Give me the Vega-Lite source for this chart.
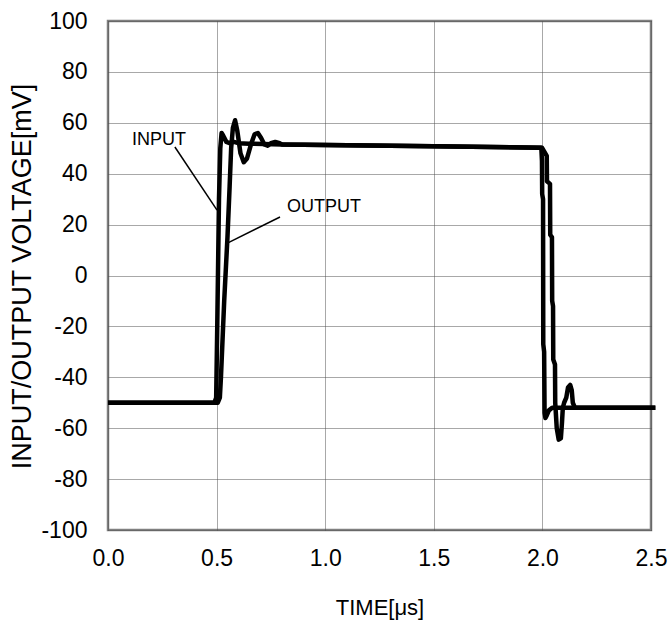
{
  "$schema": "https://vega.github.io/schema/vega-lite/v6.json",
  "width": 543,
  "height": 509,
  "autosize": {"type": "none"},
  "padding": {"left": 108, "top": 21, "right": 17, "bottom": 98},
  "background": "white",
  "config": {
    "font": "Liberation Sans",
    "view": {"stroke": "#808080", "strokeWidth": 2.5},
    "axis": {
      "grid": true,
      "gridColor": "#505050",
      "gridDash": [1, 1],
      "gridWidth": 1,
      "domain": false,
      "ticks": false,
      "labelFlush": false,
      "labelFont": "Liberation Sans",
      "labelFontSize": 23,
      "labelColor": "black",
      "titleFont": "Liberation Sans",
      "titleFontWeight": "normal",
      "titleColor": "black"
    }
  },
  "datasets": {
    "curves": [
      {"series": "INPUT", "i": 0, "t": 0.0, "v": -50},
      {"series": "INPUT", "i": 1, "t": 0.49, "v": -50},
      {"series": "INPUT", "i": 2, "t": 0.498, "v": -48},
      {"series": "INPUT", "i": 3, "t": 0.503, "v": -20},
      {"series": "INPUT", "i": 4, "t": 0.511, "v": 30},
      {"series": "INPUT", "i": 5, "t": 0.517, "v": 50},
      {"series": "INPUT", "i": 6, "t": 0.523, "v": 56},
      {"series": "INPUT", "i": 7, "t": 0.53, "v": 55},
      {"series": "INPUT", "i": 8, "t": 0.545, "v": 52.5},
      {"series": "INPUT", "i": 9, "t": 0.56, "v": 52},
      {"series": "INPUT", "i": 10, "t": 0.58, "v": 52.5},
      {"series": "INPUT", "i": 11, "t": 0.6, "v": 52},
      {"series": "INPUT", "i": 12, "t": 0.65, "v": 51.8},
      {"series": "INPUT", "i": 13, "t": 0.8, "v": 51.5},
      {"series": "INPUT", "i": 14, "t": 1.0, "v": 51.3},
      {"series": "INPUT", "i": 15, "t": 1.5, "v": 50.8},
      {"series": "INPUT", "i": 16, "t": 1.995, "v": 50.2},
      {"series": "INPUT", "i": 17, "t": 1.998, "v": 45},
      {"series": "INPUT", "i": 18, "t": 1.999, "v": 32},
      {"series": "INPUT", "i": 19, "t": 2.003, "v": 30},
      {"series": "INPUT", "i": 20, "t": 2.004, "v": -27},
      {"series": "INPUT", "i": 21, "t": 2.008, "v": -30},
      {"series": "INPUT", "i": 22, "t": 2.01, "v": -54},
      {"series": "INPUT", "i": 23, "t": 2.014, "v": -56},
      {"series": "INPUT", "i": 24, "t": 2.02, "v": -55},
      {"series": "INPUT", "i": 25, "t": 2.03, "v": -53},
      {"series": "INPUT", "i": 26, "t": 2.045, "v": -52},
      {"series": "INPUT", "i": 27, "t": 2.52, "v": -52},
      {"series": "OUTPUT", "i": 0, "t": 0.0, "v": -50},
      {"series": "OUTPUT", "i": 1, "t": 0.505, "v": -50},
      {"series": "OUTPUT", "i": 2, "t": 0.515, "v": -48},
      {"series": "OUTPUT", "i": 3, "t": 0.52, "v": -40},
      {"series": "OUTPUT", "i": 4, "t": 0.535, "v": -10},
      {"series": "OUTPUT", "i": 5, "t": 0.55, "v": 15},
      {"series": "OUTPUT", "i": 6, "t": 0.56, "v": 35},
      {"series": "OUTPUT", "i": 7, "t": 0.567, "v": 50},
      {"series": "OUTPUT", "i": 8, "t": 0.575, "v": 58},
      {"series": "OUTPUT", "i": 9, "t": 0.585, "v": 61},
      {"series": "OUTPUT", "i": 10, "t": 0.595, "v": 57},
      {"series": "OUTPUT", "i": 11, "t": 0.61, "v": 48},
      {"series": "OUTPUT", "i": 12, "t": 0.625, "v": 44.5},
      {"series": "OUTPUT", "i": 13, "t": 0.64, "v": 46},
      {"series": "OUTPUT", "i": 14, "t": 0.66, "v": 52},
      {"series": "OUTPUT", "i": 15, "t": 0.675, "v": 55.5},
      {"series": "OUTPUT", "i": 16, "t": 0.69, "v": 56},
      {"series": "OUTPUT", "i": 17, "t": 0.705, "v": 54},
      {"series": "OUTPUT", "i": 18, "t": 0.72, "v": 51.5},
      {"series": "OUTPUT", "i": 19, "t": 0.735, "v": 51},
      {"series": "OUTPUT", "i": 20, "t": 0.75, "v": 52},
      {"series": "OUTPUT", "i": 21, "t": 0.77, "v": 52.5},
      {"series": "OUTPUT", "i": 22, "t": 0.79, "v": 52},
      {"series": "OUTPUT", "i": 23, "t": 0.8, "v": 51.5},
      {"series": "OUTPUT", "i": 24, "t": 1.0, "v": 51.3},
      {"series": "OUTPUT", "i": 25, "t": 1.5, "v": 50.8},
      {"series": "OUTPUT", "i": 26, "t": 1.998, "v": 50.2},
      {"series": "OUTPUT", "i": 27, "t": 2.02, "v": 47},
      {"series": "OUTPUT", "i": 28, "t": 2.021, "v": 37},
      {"series": "OUTPUT", "i": 29, "t": 2.035, "v": 36},
      {"series": "OUTPUT", "i": 30, "t": 2.036, "v": 16},
      {"series": "OUTPUT", "i": 31, "t": 2.044, "v": 15},
      {"series": "OUTPUT", "i": 32, "t": 2.045, "v": -10},
      {"series": "OUTPUT", "i": 33, "t": 2.049, "v": -12},
      {"series": "OUTPUT", "i": 34, "t": 2.05, "v": -33},
      {"series": "OUTPUT", "i": 35, "t": 2.058, "v": -35},
      {"series": "OUTPUT", "i": 36, "t": 2.059, "v": -50},
      {"series": "OUTPUT", "i": 37, "t": 2.066, "v": -60},
      {"series": "OUTPUT", "i": 38, "t": 2.075, "v": -64.5},
      {"series": "OUTPUT", "i": 39, "t": 2.085, "v": -64},
      {"series": "OUTPUT", "i": 40, "t": 2.09, "v": -58},
      {"series": "OUTPUT", "i": 41, "t": 2.094, "v": -52},
      {"series": "OUTPUT", "i": 42, "t": 2.1, "v": -50},
      {"series": "OUTPUT", "i": 43, "t": 2.11, "v": -48},
      {"series": "OUTPUT", "i": 44, "t": 2.118, "v": -44},
      {"series": "OUTPUT", "i": 45, "t": 2.128, "v": -43},
      {"series": "OUTPUT", "i": 46, "t": 2.135, "v": -45},
      {"series": "OUTPUT", "i": 47, "t": 2.14, "v": -50},
      {"series": "OUTPUT", "i": 48, "t": 2.15, "v": -52},
      {"series": "OUTPUT", "i": 49, "t": 2.52, "v": -52}
    ],
    "leaders": [
      {"t": 0.308, "v": 50.5, "t2": 0.502, "v2": 25.7},
      {"t": 0.792, "v": 23.0, "t2": 0.552, "v2": 12.8}
    ],
    "labels": [
      {"label": "INPUT", "t": 0.11, "v": 53.2},
      {"label": "OUTPUT", "t": 0.824, "v": 26.9}
    ]
  },
  "layer": [
    {
      "data": {"name": "curves"},
      "mark": {"type": "line", "color": "black", "strokeWidth": 4.5, "strokeJoin": "round", "clip": false},
      "encoding": {
        "x": {
          "field": "t", "type": "quantitative",
          "scale": {"domain": [0, 2.5], "nice": false, "zero": false},
          "axis": {"values": [0, 0.5, 1, 1.5, 2, 2.5], "format": ".1f", "labelPadding": 17, "title": "TIME[μs]", "titleFontSize": 22, "titlePadding": 27}
        },
        "y": {
          "field": "v", "type": "quantitative",
          "scale": {"domain": [-100, 100], "nice": false},
          "axis": {"values": [-100, -80, -60, -40, -20, 0, 20, 40, 60, 80, 100], "labelExpr": "replace(datum.label, '\u2212', '-')", "labelPadding": 21, "title": "INPUT/OUTPUT VOLTAGE[mV]", "titleFontSize": 27, "titleX": -86, "titleY": 255, "titleBaseline": "middle", "titleAlign": "center", "titleAngle": -90}
        },
        "detail": {"field": "series"},
        "order": {"field": "i", "type": "quantitative"}
      }
    },
    {
      "data": {"name": "leaders"},
      "mark": {"type": "rule", "color": "black", "strokeWidth": 1.5},
      "encoding": {
        "x": {"field": "t", "type": "quantitative"},
        "y": {"field": "v", "type": "quantitative"},
        "x2": {"field": "t2"},
        "y2": {"field": "v2"}
      }
    },
    {
      "data": {"name": "labels"},
      "mark": {"type": "text", "align": "left", "baseline": "middle", "fontSize": 18, "font": "Liberation Sans", "color": "black"},
      "encoding": {
        "x": {"field": "t", "type": "quantitative"},
        "y": {"field": "v", "type": "quantitative"},
        "text": {"field": "label"}
      }
    }
  ]
}
